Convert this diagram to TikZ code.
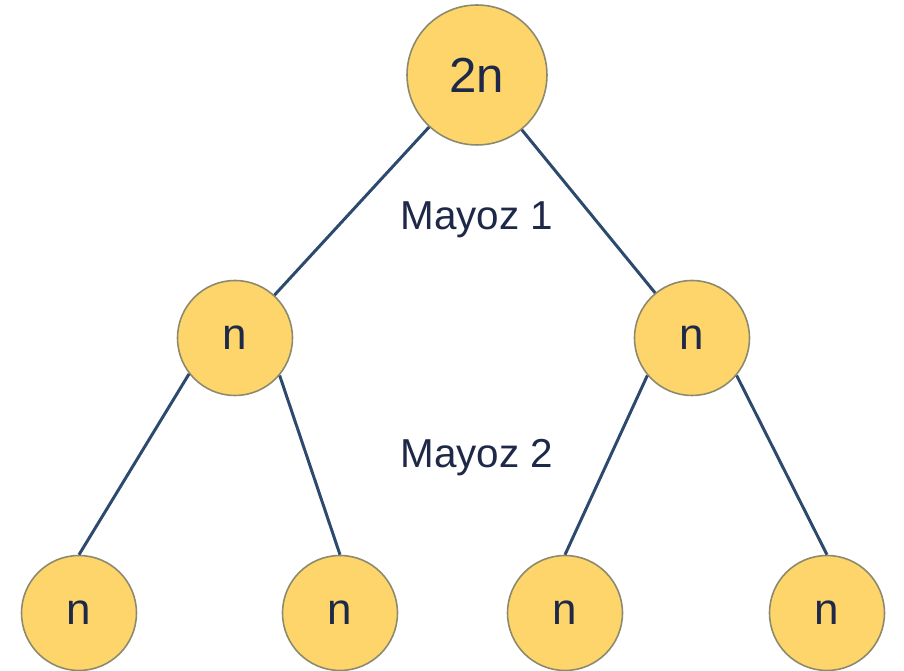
\documentclass[tikz,border=0pt]{standalone}
\usepackage{fontspec}
\setmainfont{Liberation Sans}
\usepackage{xcolor}
\definecolor{cellfill}{RGB}{253,213,106}
\definecolor{celledge}{RGB}{140,138,110}
\definecolor{linkblue}{RGB}{44,74,110}
\definecolor{textnavy}{RGB}{30,40,72}
\usepackage{tikz}
\usetikzlibrary{calc,positioning}

\begin{document}
\begin{tikzpicture}[x=0.02cm,y=-0.02cm,
    cell/.style={circle,draw=celledge,line width=0.9pt,fill=cellfill,
      inner sep=0pt,minimum size=2.3cm,text=textnavy,
      font=\fontsize{25}{30}\selectfont},
    link/.style={draw=linkblue,line width=1.7pt},
    stage/.style={text=textnavy,anchor=base,font=\fontsize{23}{27}\selectfont}]
    % Frame
    \useasboundingbox (0,0) rectangle (904,671);
    % Cells
    \node[cell,minimum size=2.8cm,font=\fontsize{28}{32}\selectfont] (top) at (477,75) {2n};
    \node[cell] (ml) at (235,338) {n};
    \node[cell] (mr) at (692,338) {n};
    \node[cell] (b1) at (79,613) {n};
    \node[cell] (b2) at (340,613) {n};
    \node[cell] (b3) at (565,613) {n};
    \node[cell] (b4) at (827,613) {n};
    % First division
    \draw[link] (top) -- (ml);
    \draw[link] (top) -- (mr);
    % Second division
    \draw[link] (ml.218) -- (b1.north);
    \draw[link] (ml.320) -- (b2.north);
    \draw[link] (mr.220) -- (b3.north);
    \draw[link] (mr.320) -- (b4.north);
    % Labels
    \node[stage] (m1) at (477,230) {Mayoz 1};
    \node[stage] (m2) at (477,468) {Mayoz 2};
\end{tikzpicture}
\end{document}
